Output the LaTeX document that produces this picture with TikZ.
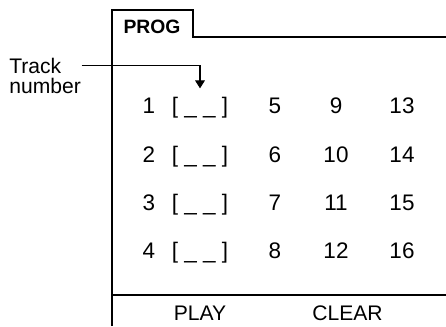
\documentclass[tikz,border=0pt]{standalone}
\usepackage{fontspec}
\setmainfont{Liberation Sans}
\usetikzlibrary{arrows.meta}
\tikzset{
  panel/.style={line width=1.1pt},
  lead/.style={line width=0.6pt, -{Triangle[width=5.5pt,length=4.5pt]}},
  lbl/.style={font=\fontsize{12pt}{14pt}\selectfont, inner sep=0pt, anchor=base},
  cell/.style={lbl, font=\fontsize{12.8pt}{15pt}\selectfont},
}

\begin{document}
\begin{tikzpicture}[x=0.02cm,y=-0.02cm]
        \useasboundingbox (0,0) rectangle (446,326);
        % panel edge with the tab
        \draw[panel] (112,326) -- (112,10) -- (193,10) -- (193,37) -- (446,37);
        \draw[panel] (112,295) -- (446,295);
        \node[lbl, font=\bfseries\fontsize{11pt}{13pt}\selectfont] (prog) at (152,33) {PROG};
        % rows of tracks
        \foreach \r/\y/\a/\b/\c in {1/113/5/9/13, 2/162/6/10/14, 3/210/7/11/15, 4/258/8/12/16} {
          \node[cell] (num\r) at (149,\y) {\r};
          \node[cell] (slot\r) at (200,\y) {[ \_ \_ ]};
          \node[cell] (a\r) at (275,\y) {\a};
          \node[cell] (b\r) at (336,\y) {\b};
          \node[cell] (c\r) at (402,\y) {\c};
        }
        \node[lbl] (play) at (200,320) {PLAY};
        \node[lbl] (clear) at (347.5,320) {CLEAR};
        % label with pointer
        \node[lbl, anchor=base west] (track) at (9,73) {Track};
        \node[lbl, anchor=base west] (number) at (9,93) {number};
        \draw[lead] ([xshift=0.4cm]track.east) -| ([yshift=0.16cm]slot1.north);
\end{tikzpicture}
\end{document}
